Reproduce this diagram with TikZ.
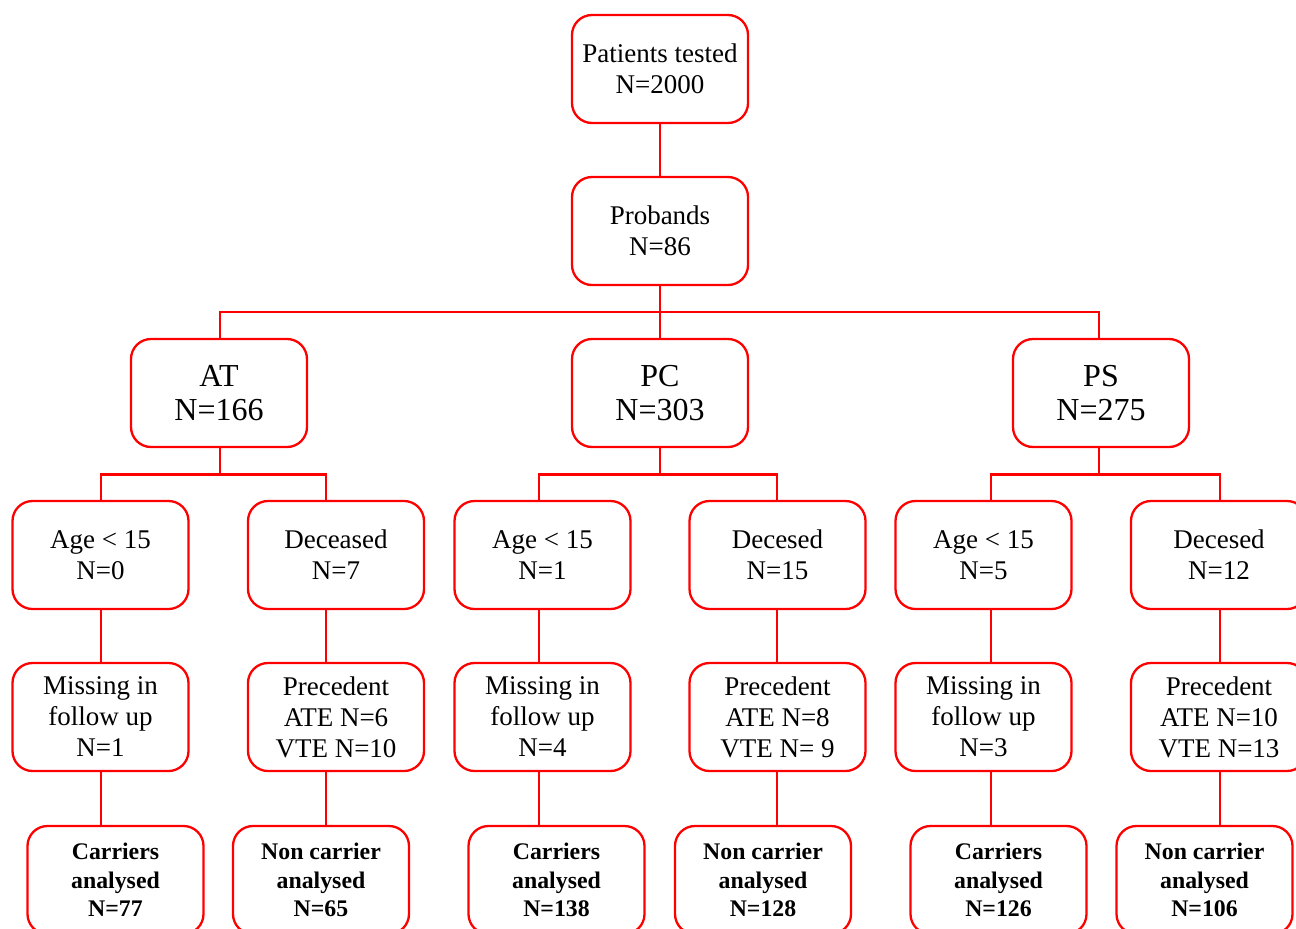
\documentclass[tikz,border=0pt]{standalone}
\usepackage{fontspec}
\setmainfont{Liberation Serif}
\definecolor{boxred}{RGB}{255,0,0}
\tikzset{
 box/.style={draw=boxred, line width=2.3pt, rounded corners=20pt, minimum width=176pt, minimum height=108pt, inner sep=0pt, align=center, font=\fontsize{27}{31}\selectfont},
 bigbox/.style={box, font=\fontsize{32}{34}\selectfont},
 boldbox/.style={box, font=\fontsize{23.8}{28.5}\selectfont\bfseries},
 link/.style={draw=boxred, line width=2.3pt},
}
\begin{document}
\begin{tikzpicture}[x=1pt,y=-1pt]
\useasboundingbox (0,0) rectangle (1296,929);
\clip (0,0) rectangle (1296,929);
% top
\node[box] (top) at (660,69) {Patients tested\\N=2000};
\node[box] (prob) at (660,231) {Probands\\N=86};
% level 2
\node[bigbox] (at) at (219,393) {AT\\N=166};
\node[bigbox] (pc) at (660,393) {PC\\N=303};
\node[bigbox] (ps) at (1101,393) {PS\\N=275};
% AT group
\node[box] (ageA) at (100.5,555) {Age < 15\\N=0};
\node[box] (decA) at (336,555) {Deceased\\N=7};
\node[box] (missA) at (100.5,717) {Missing in\\follow up\\N=1};
\node[box] (precA) at (336,717) {Precedent\\ATE N=6\\VTE N=10};
\node[boldbox] (carA) at (115.5,880) {Carriers\\analysed\\N=77};
\node[boldbox] (nonA) at (321,880) {Non carrier\\analysed\\N=65};
% PC group
\node[box] (ageP) at (542.5,555) {Age < 15\\N=1};
\node[box] (decP) at (777.5,555) {Decesed\\N=15};
\node[box] (missP) at (542.5,717) {Missing in\\follow up\\N=4};
\node[box] (precP) at (777.5,717) {Precedent\\ATE N=8\\VTE N= 9};
\node[boldbox] (carP) at (556.5,880) {Carriers\\analysed\\N=138};
\node[boldbox] (nonP) at (763,880) {Non carrier\\analysed\\N=128};
% PS group
\node[box] (ageS) at (983.5,555) {Age < 15\\N=5};
\node[box] (decS) at (1219,555) {Decesed\\N=12};
\node[box] (missS) at (983.5,717) {Missing in\\follow up\\N=3};
\node[box] (precS) at (1219,717) {Precedent\\ATE N=10\\VTE N=13};
\node[boldbox] (carS) at (998.5,880) {Carriers\\analysed\\N=126};
\node[boldbox] (nonS) at (1204.5,880) {Non carrier\\analysed\\N=106};
% connectors
\draw[link] (top.south) -- (prob.north);
\coordinate (bus1) at (660,312);
\draw[link] (prob.south) -- (bus1);
\draw[link] ([xshift=1pt]at.north) |- (bus1) -| ([xshift=-2pt]ps.north);
\draw[link] (bus1) -- (pc.north);
% AT
\coordinate (busA) at (220,474.5);
\draw[link] ([xshift=1pt]at.south) -- (busA);
\draw[link] ([xshift=0.5pt]ageA.north) |- (busA) -| ([xshift=-10pt]decA.north);
\draw[link] ([xshift=0.5pt]ageA.south) -- ([xshift=0.5pt]missA.north);
\draw[link] ([xshift=0.5pt]missA.south) -- ([xshift=-14.5pt]carA.north);
\draw[link] ([xshift=-10pt]decA.south) -- ([xshift=-10pt]precA.north);
\draw[link] ([xshift=-10pt]precA.south) -- ([xshift=5pt]nonA.north);
% PC
\coordinate (busP) at (660,474.5);
\draw[link] (pc.south) -- (busP);
\draw[link] ([xshift=-3.5pt]ageP.north) |- (busP) -| ([xshift=-0.5pt]decP.north);
\draw[link] ([xshift=-3.5pt]ageP.south) -- ([xshift=-3.5pt]missP.north);
\draw[link] ([xshift=-3.5pt]missP.south) -- ([xshift=-17.5pt]carP.north);
\draw[link] ([xshift=-0.5pt]decP.south) -- ([xshift=-0.5pt]precP.north);
\draw[link] ([xshift=-0.5pt]precP.south) -- ([xshift=14pt]nonP.north);
% PS
\coordinate (busS) at (1099,474.5);
\draw[link] ([xshift=-2pt]ps.south) -- (busS);
\draw[link] ([xshift=7.5pt]ageS.north) |- (busS) -| ([xshift=1pt]decS.north);
\draw[link] ([xshift=7.5pt]ageS.south) -- ([xshift=7.5pt]missS.north);
\draw[link] ([xshift=7.5pt]missS.south) -- ([xshift=-7.5pt]carS.north);
\draw[link] ([xshift=1pt]decS.south) -- ([xshift=1pt]precS.north);
\draw[link] ([xshift=1pt]precS.south) -- ([xshift=15.5pt]nonS.north);
\end{tikzpicture}
\end{document}
